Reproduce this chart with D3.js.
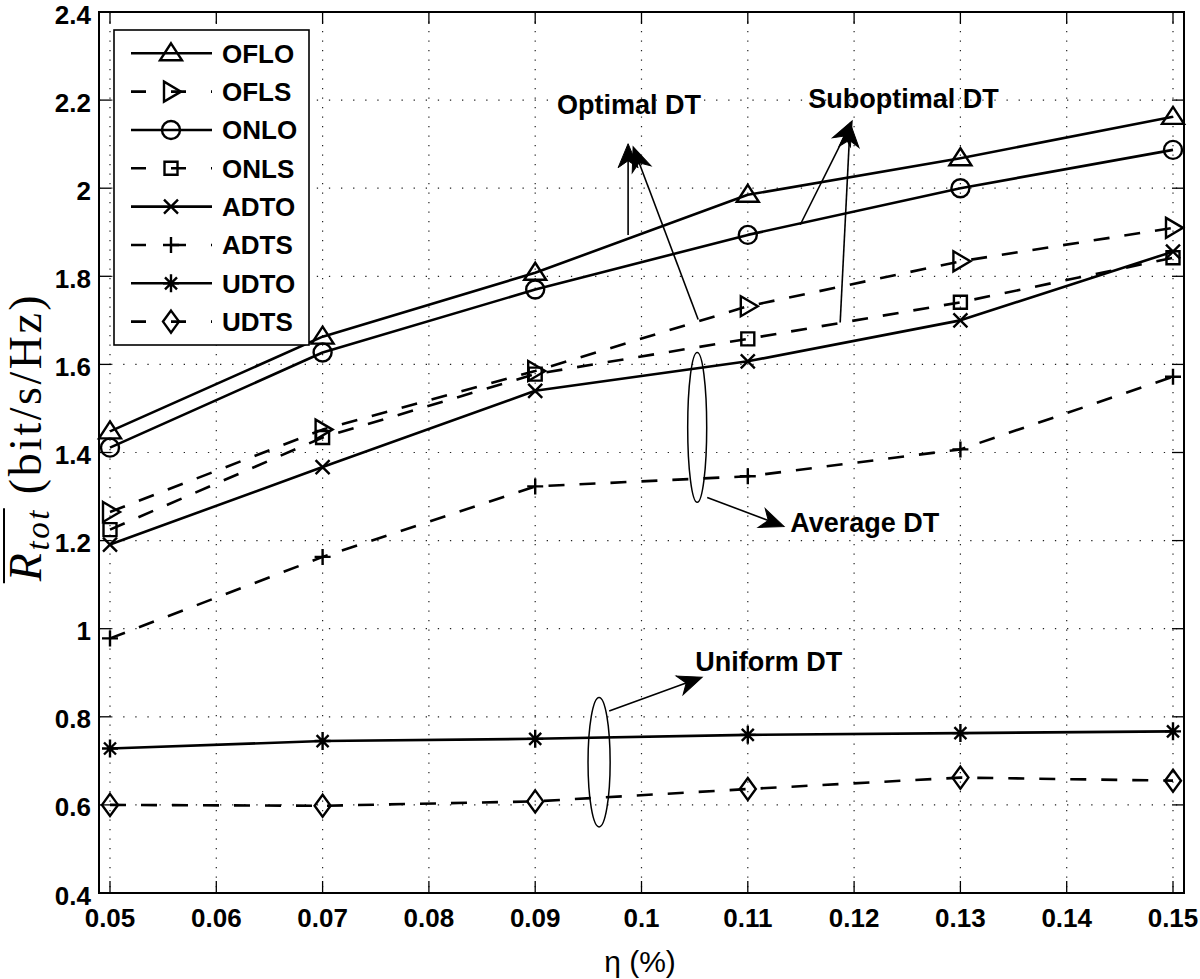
<!DOCTYPE html>
<html>
<head>
<meta charset="utf-8">
<script src="https://cdn.jsdelivr.net/npm/d3@7"></script>
<style>
html,body{margin:0;padding:0;background:#fff;}
svg{display:block;}
</style>
</head>
<body>
<svg id="chart" width="1200" height="979"></svg>
<script>
// ---- data ----
const eta = [0.05, 0.07, 0.09, 0.11, 0.13, 0.15];
const seriesNames = ["OFLO", "OFLS", "ONLO", "ONLS", "ADTO", "ADTS", "UDTO", "UDTS"];
const OFLO = [1.448, 1.663, 1.808, 1.985, 2.068, 2.162];
const OFLS = [1.265, 1.452, 1.585, 1.732, 1.834, 1.910];
const ONLO = [1.411, 1.627, 1.770, 1.894, 2.000, 2.087];
const ONLS = [1.225, 1.434, 1.578, 1.658, 1.741, 1.842];
const ADTO = [1.191, 1.367, 1.540, 1.607, 1.700, 1.856];
const ADTS = [0.978, 1.163, 1.323, 1.346, 1.407, 1.572];
const UDTO = [0.728, 0.745, 0.750, 0.759, 0.763, 0.767];
const UDTS = [0.600, 0.598, 0.608, 0.636, 0.662, 0.655];
const xTicks = [0.05, 0.06, 0.07, 0.08, 0.09, 0.1, 0.11, 0.12, 0.13, 0.14, 0.15];
const yTicks = [0.4, 0.6, 0.8, 1, 1.2, 1.4, 1.6, 1.8, 2, 2.2, 2.4];
const xTickLabels = ["0.05", "0.06", "0.07", "0.08", "0.09", "0.1", "0.11", "0.12", "0.13", "0.14", "0.15"];
const yTickLabels = ["0.4", "0.6", "0.8", "1", "1.2", "1.4", "1.6", "1.8", "2", "2.2", "2.4"];
// annotations (data coordinates)
const annoTexts = [
  {t: "Optimal DT", x: 0.09206, y: 2.169},
  {t: "Suboptimal DT", x: 0.11568, y: 2.182},
  {t: "Average DT", x: 0.11399, y: 1.219},
  {t: "Uniform DT", x: 0.10505, y: 0.903}
];
const annoArrows = [
  [0.09874, 1.894, 0.09874, 2.101],
  [0.10533, 1.702, 0.09921, 2.094],
  [0.11493, 1.917, 0.11982, 2.153],
  [0.11869, 1.695, 0.11963, 2.148],
  [0.10618, 1.298, 0.11342, 1.232],
  [0.09696, 0.813, 0.10571, 0.890]
];
const annoEllipses = [
  {x: 0.10524, y: 1.457, rx: 0.000894, ry: 0.170},
  {x: 0.09601, y: 0.697, rx: 0.00104, ry: 0.147}
];

// ---- styles ----
const seriesData = [OFLO, OFLS, ONLO, ONLS, ADTO, ADTS, UDTO, UDTS];
const markers = ["tri", "rtri", "circle", "square", "x", "plus", "star", "diamond"];
const dashed = [false, true, false, true, false, true, false, true];
const DASH = "16,15";

const svg = d3.select("#chart");
const x = d3.scaleLinear().domain([0.05, 0.15]).range([110, 1173]);
const y = d3.scaleLinear().domain([0.4, 2.4]).range([893, 12]);
const L = 99, R = 1184, T = 12, B = 893;
const SANS = "'Liberation Sans', Arial, Helvetica, sans-serif";

// grid
const grid = svg.append("g");
xTicks.forEach(v => {
  grid.append("line").attr("x1", x(v)).attr("x2", x(v)).attr("y1", T).attr("y2", B)
    .attr("stroke", "#222").attr("stroke-width", 1.2).attr("stroke-dasharray", "1.3,8.2");
});
yTicks.forEach(v => {
  grid.append("line").attr("x1", L).attr("x2", R).attr("y1", y(v)).attr("y2", y(v))
    .attr("stroke", "#222").attr("stroke-width", 1.2).attr("stroke-dasharray", "1.3,10.8");
});

// ticks (inward, all four sides)
const tk = svg.append("g").attr("stroke", "#000").attr("stroke-width", 1.3);
xTicks.forEach(v => {
  tk.append("line").attr("x1", x(v)).attr("x2", x(v)).attr("y1", B).attr("y2", B - 12);
  tk.append("line").attr("x1", x(v)).attr("x2", x(v)).attr("y1", T).attr("y2", T + 12);
});
yTicks.forEach(v => {
  tk.append("line").attr("x1", L).attr("x2", L + 12).attr("y1", y(v)).attr("y2", y(v));
  tk.append("line").attr("x1", R).attr("x2", R - 12).attr("y1", y(v)).attr("y2", y(v));
});

// tick labels
xTicks.forEach((v, i) => {
  svg.append("text").attr("x", x(v)).attr("y", 927).attr("text-anchor", "middle")
    .attr("font-family", SANS).attr("font-weight", "bold").attr("font-size", 26)
    .text(xTickLabels[i]);
});
yTicks.forEach((v, i) => {
  svg.append("text").attr("x", 91).attr("y", y(v) + 11.5).attr("text-anchor", "end")
    .attr("font-family", SANS).attr("font-weight", "bold").attr("font-size", 26)
    .text(yTickLabels[i]);
});

// marker shapes
function markerPath(m) {
  switch (m) {
    case "tri": return "M0,-10L11,7L-11,7Z";
    case "rtri": return "M-7,-10L10,0L-7,10Z";
    case "circle": return "M9,0A9,9 0 1,1 -9,0A9,9 0 1,1 9,0Z";
    case "square": return "M-6.5,-6.5H6.5V6.5H-6.5Z";
    case "x": return "M-7,-7L7,7M-7,7L7,-7";
    case "plus": return "M-8,0H8M0,-8V8";
    case "star": return "M-8,0H8M0,-9V9M-6,-6L6,6M-6,6L6,-6";
    case "diamond": return "M0,-11L8,0L0,11L-8,0Z";
  }
}

// lines + markers
const lineGen = d3.line().x((d, i) => x(eta[i])).y(d => y(d));
const plot = svg.append("g");
seriesData.forEach((s, k) => {
  plot.append("path").attr("d", lineGen(s)).attr("fill", "none").attr("stroke", "#000")
    .attr("stroke-width", 2.6).attr("stroke-dasharray", dashed[k] ? DASH : null)
    .attr("stroke-linejoin", "round");
  s.forEach((v, i) => {
    plot.append("path").attr("d", markerPath(markers[k]))
      .attr("transform", `translate(${x(eta[i])},${y(v)})`)
      .attr("fill", "none").attr("stroke", "#000").attr("stroke-width", 2.4);
  });
});

// frame
svg.append("rect").attr("x", L).attr("y", T).attr("width", R - L).attr("height", B - T)
  .attr("fill", "none").attr("stroke", "#000").attr("stroke-width", 2);

// annotations
const ann = svg.append("g");
function arrow(x1, y1, x2, y2) {
  const px1 = x(x1), py1 = y(y1), px2 = x(x2), py2 = y(y2);
  const ang = Math.atan2(py2 - py1, px2 - px1);
  const len = Math.hypot(px2 - px1, py2 - py1);
  const g = ann.append("g").attr("transform", `translate(${px1},${py1}) rotate(${ang * 180 / Math.PI})`);
  g.append("line").attr("x1", 0).attr("y1", 0).attr("x2", len - 12).attr("y2", 0)
    .attr("stroke", "#000").attr("stroke-width", 1.6);
  g.append("path").attr("d", `M${len},0L${len - 24},-10L${len - 17},0L${len - 24},10Z`)
    .attr("fill", "#000").attr("stroke", "#000").attr("stroke-width", 1);
}
annoArrows.forEach(a => arrow(a[0], a[1], a[2], a[3]));
annoEllipses.forEach(e => {
  ann.append("ellipse").attr("cx", x(e.x)).attr("cy", y(e.y))
    .attr("rx", x(e.x + e.rx) - x(e.x)).attr("ry", y(e.y - e.ry) - y(e.y))
    .attr("fill", "none").attr("stroke", "#000").attr("stroke-width", 1.5);
});
annoTexts.forEach(a => {
  ann.append("text").attr("x", x(a.x)).attr("y", y(a.y))
    .attr("font-family", SANS).attr("font-weight", "bold").attr("font-size", 27).text(a.t);
});

// legend
const lg = svg.append("g");
lg.append("rect").attr("x", 114).attr("y", 30).attr("width", 195).attr("height", 315)
  .attr("fill", "#fff").attr("stroke", "#000").attr("stroke-width", 1.6);
seriesNames.forEach((n, k) => {
  const ly = 53.3 + k * 38.33;
  lg.append("line").attr("x1", 131).attr("x2", 212).attr("y1", ly).attr("y2", ly)
    .attr("stroke", "#000").attr("stroke-width", 2.6)
    .attr("stroke-dasharray", dashed[k] ? "15,25" : null);
  lg.append("path").attr("d", markerPath(markers[k])).attr("transform", `translate(171,${ly})`)
    .attr("fill", "none").attr("stroke", "#000").attr("stroke-width", 2.4);
  lg.append("text").attr("x", 222).attr("y", ly + 9.5).attr("font-family", SANS)
    .attr("font-weight", "bold").attr("font-size", 26).text(n);
});

// x label
svg.append("text").attr("x", 640).attr("y", 972).attr("text-anchor", "middle")
  .attr("font-family", SANS).attr("font-size", 30).text("η (%)");

// y label
const YLX = 41, YLY = 437, YFS = 46;
const yl = svg.append("text").attr("transform", `translate(${YLX},${YLY}) rotate(-90)`)
  .attr("text-anchor", "middle").attr("font-family", "'Liberation Serif', 'Times New Roman', serif")
  .attr("font-size", YFS).attr("letter-spacing", 2.5);
yl.append("tspan").attr("font-style", "italic").text("R");
yl.append("tspan").attr("font-style", "italic").attr("font-size", 33).attr("dy", 8).text("tot");
yl.append("tspan").attr("dy", -8).text(" (bit/s/Hz)");
const tl = yl.node().getComputedTextLength();
const ol = yl.node().getSubStringLength(0, 4);
svg.append("line").attr("transform", `translate(${YLX},${YLY}) rotate(-90)`)
  .attr("x1", -tl / 2 - 2).attr("x2", -tl / 2 + ol).attr("y1", -37).attr("y2", -37)
  .attr("stroke", "#000").attr("stroke-width", 2);
</script>
</body>
</html>
